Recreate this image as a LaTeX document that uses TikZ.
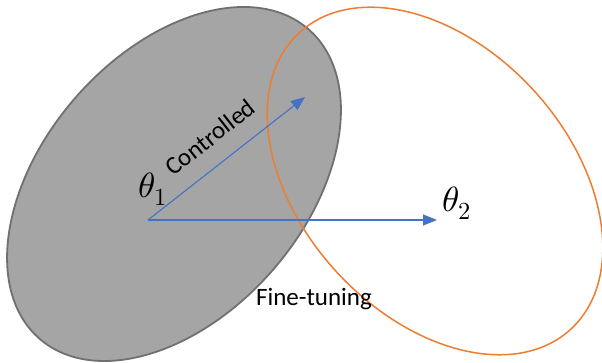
\documentclass[tikz,border=0pt]{standalone}
\usepackage{unicode-math}
\setmainfont{Carlito}
\setmathfont{Latin Modern Math}
\usetikzlibrary{arrows.meta}
\definecolor{fillgray}{HTML}{A5A5A5}
\definecolor{edgegray}{HTML}{707070}
\definecolor{orng}{HTML}{ED7D31}
\definecolor{blu}{HTML}{4472C4}
\tikzset{
  vec/.style={draw=blu, line width=1.1pt, -{Triangle[length=14pt,width=11pt]}},
  lbl/.style={font=\fontsize{25}{30}\selectfont, inner sep=0pt},
  mlbl/.style={font=\fontsize{35}{42}\selectfont, inner sep=0pt}
}
\begin{document}
\begin{tikzpicture}[x=1pt,y=1pt]
\useasboundingbox (0,0) rectangle (602,363);
\fill[white] (0,0) rectangle (602,363);
% gray ellipse
\draw[fill=fillgray, draw=edgegray, line width=1.8pt, rotate around={49:(174,179)}]
  (174,179) ellipse [x radius=205, y radius=131];
% orange ellipse
\draw[draw=orng, line width=1.5pt, rotate around={-47.6:(435,182)}]
  (435,182) ellipse [x radius=201, y radius=134];
% vectors
\coordinate (O) at (148,143);
\coordinate (A) at (305,266);
\coordinate (B) at (437,143);
\draw[vec] (O) -- (A);
\draw[vec] (O) -- (B);
% labels
\node[mlbl] (t1) at (153,174) {$\theta_1$};
\node[mlbl] (t2) at (457,160) {$\theta_2$};
\node[lbl, rotate=38] (ctl) at (210,226) {Controlled};
\node[lbl, anchor=base] (ft) at (314,57) {Fine-tuning};
\end{tikzpicture}
\end{document}
